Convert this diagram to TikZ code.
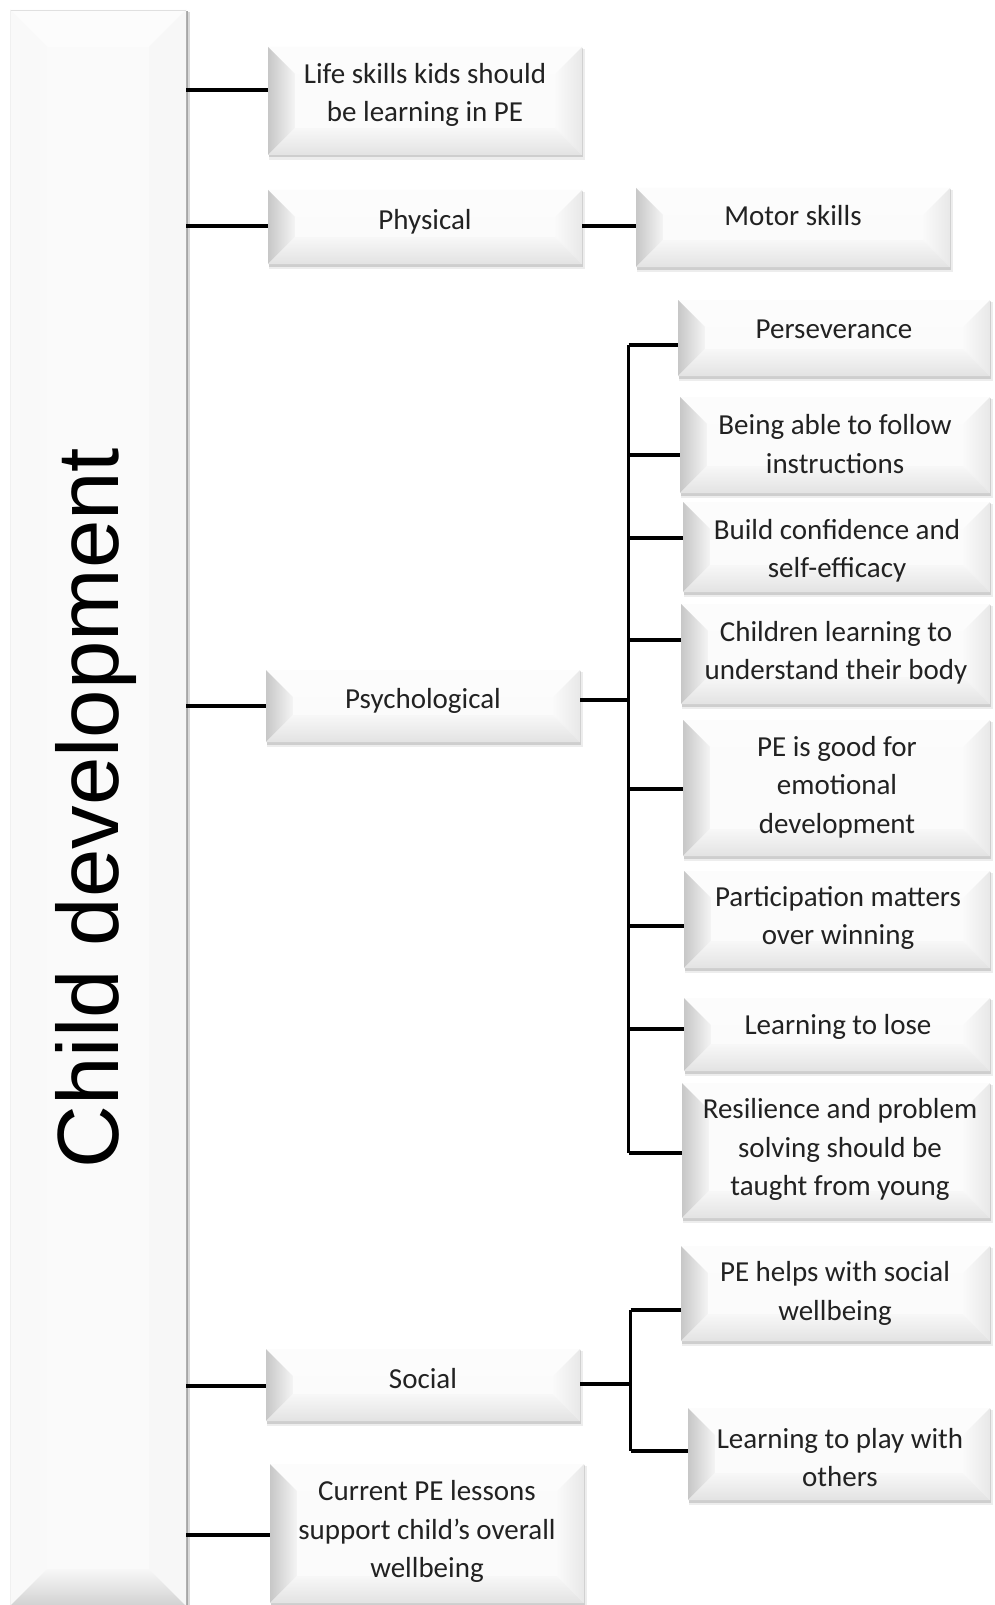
\documentclass[tikz,border=0pt]{standalone}
\usepackage{fontspec}
\setmainfont{Carlito}
\newfontfamily\titlefont{Liberation Sans}
\usetikzlibrary{calc}
\definecolor{ink}{HTML}{222222}

% bevel depth of the small boxes
\def\bd{27}

% bevelled box: name, x1, y1, x2, y2, y of the connector on the west side
\newcommand\bevbox[6]{%
  \fill[black,opacity=.07] (#2+1,#3+2) rectangle (#4+2.5,#5+5);
  \fill[black,opacity=.13] (#2+1,#3+1) rectangle (#4+1.2,#5+2.5);
  \fill[white] (#2,#3) rectangle (#4,#5);
  \fill[black!1] (#2,#3) -- (#4,#3) -- (#4-\bd,#3+\bd) -- (#2+\bd,#3+\bd) -- cycle;
  \shade[left color=black!22, right color=black!4]
    (#2,#3) -- (#2+\bd,#3+\bd) -- (#2+\bd,#5-\bd) -- (#2,#5) -- cycle;
  \shade[left color=black!2, right color=black!9]
    (#4,#3) -- (#4,#5) -- (#4-\bd,#5-\bd) -- (#4-\bd,#3+\bd) -- cycle;
  \shade[top color=black!3, bottom color=black!11]
    (#2,#5) -- (#4,#5) -- (#4-\bd,#5-\bd) -- (#2+\bd,#5-\bd) -- cycle;
  \fill[black!1.5] (#2+\bd,#3+\bd) rectangle (#4-\bd,#5-\bd);
  \node[inner sep=0pt, minimum width={(#4-#2)*1pt}, minimum height={(#5-#3)*1pt}]
    (#1) at ({(#2+#4)/2},{(#3+#5)/2}) {};
  \coordinate (#1-w) at (#2,#6);
}

\tikzset{
  txt/.style={text=ink, align=center, inner sep=0pt,
    font=\fontsize{29}{38.5}\selectfont},
  conn/.style={draw=black, line width=3.1pt},
}

\begin{document}
\begin{tikzpicture}[x=1pt, y=-1pt]
\useasboundingbox (0,0) rectangle (994,1605);
\clip (0,0) rectangle (994,1605);
\fill[white] (0,0) rectangle (994,1605);

% ---- main vertical box -------------------------------------------------
\fill[black!35] (186,11) rectangle (187.6,1605);
\fill[black!15] (187.6,12) rectangle (190,1605);
\fill[black!1.5] (10,10) rectangle (186,1606);
\fill[black!1] (10,10) -- (186,10) -- (149,47) -- (47,47) -- cycle;
\fill[black!2.5] (10,10) -- (47,47) -- (47,1569) -- (10,1606) -- cycle;
\fill[black!3] (186,10) -- (186,1606) -- (149,1569) -- (149,47) -- cycle;
\shade[top color=black!3, bottom color=black!18]
  (10,1606) -- (186,1606) -- (149,1569) -- (47,1569) -- cycle;
\fill[black!2] (47,47) rectangle (149,1569);
\draw[black!12, line width=1pt] (10,10.5) -- (186,10.5);
\draw[black!6, line width=1pt] (10.5,10) -- (10.5,1605);
\node[inner sep=0pt, minimum width=176pt, minimum height=1596pt] (cd) at (98,808) {};
\node[rotate=90, anchor=base, inner sep=0pt,
      font=\titlefont\fontsize{87}{87}\selectfont] (cd-t) at (118,808) {Child development};

% ---- first level -------------------------------------------------------
\bevbox{life}{268}{47}{582}{155}{90}
\node[txt] (life-t) at (425,95) {Life skills kids should\\be learning in PE};

\bevbox{phys}{268}{190}{582}{264}{226}
\node[txt] (phys-t) at (425,222) {Physical};

\bevbox{psych}{266}{670}{580}{742}{706}
\node[txt] (psych-t) at (423,701) {Psychological};

\bevbox{social}{266}{1349}{580}{1421}{1386}
\node[txt] (social-t) at (423,1379) {Social};

\bevbox{current}{270}{1464}{584}{1603}{1535}
\node[txt] (current-t) at (427,1531.5) {Current PE lessons\\support child’s overall\\wellbeing};

\foreach \n in {life,phys,psych,social,current}
  \draw[conn] (cd.east |- \n-w) -- (\n-w);

% ---- physical branch ----------------------------------------------------
\bevbox{motor}{636}{188}{950}{267}{226}
\node[txt] (motor-t) at (793,216) {Motor skills};
\draw[conn] (phys.east |- motor-w) -- (motor-w);

% ---- psychological branch -----------------------------------------------
\bevbox{pers}{678}{300}{990}{376}{345}
\node[txt] (pers-t) at (834,329) {Perseverance};

\bevbox{follow}{680}{397}{990}{493}{455}
\node[txt] (follow-t) at (835,444) {Being able to follow\\instructions};

\bevbox{conf}{683}{502}{990}{592}{538}
\begin{scope}
  \clip (conf.north west) rectangle (conf.south east);
  \node[txt] (conf-t) at (837,551) {Build confidence and\\self-efficacy};
\end{scope}

\bevbox{body}{681}{604}{990}{704}{640}
\node[txt] (body-t) at (836,652.6) {Children learning to\\understand their body};

\bevbox{emot}{683}{720}{990}{856}{789}
\node[txt] (emot-t) at (837,787) {PE is good for\\emotional\\development};

\bevbox{part}{684}{871}{990}{968}{926}
\node[txt] (part-t) at (838,918) {Participation matters\\over winning};

\bevbox{lose}{684}{998}{990}{1071}{1029}
\node[txt] (lose-t) at (838,1027) {Learning to lose};

\bevbox{resil}{682}{1083}{990}{1218}{1153}
\node[txt] (resil-t) at (840,1149.6) {Resilience and problem\\solving should be\\taught from young};

\coordinate (psy-bus) at (628.6,700);
\draw[conn] (psych.east |- psy-bus) -- (psy-bus);
\draw[conn] (psy-bus |- pers-w) -- (psy-bus |- resil-w);
\foreach \n in {pers,follow,conf,body,emot,part,lose,resil}
  \draw[conn] (psy-bus |- \n-w) -- (\n-w);

% ---- social branch -------------------------------------------------------
\bevbox{socwb}{681}{1246}{990}{1341}{1310}
\node[txt] (socwb-t) at (835,1293.5) {PE helps with social\\wellbeing};

\bevbox{play}{688}{1408}{990}{1500}{1451}
\node[txt] (play-t) at (840,1457.7) {Learning to play with\\others};

\coordinate (soc-bus) at (630.6,1384);
\draw[conn] (social.east |- soc-bus) -- (soc-bus);
\draw[conn] (soc-bus |- socwb-w) -- (soc-bus |- play-w);
\foreach \n in {socwb,play}
  \draw[conn] (soc-bus |- \n-w) -- (\n-w);
\end{tikzpicture}
\end{document}
